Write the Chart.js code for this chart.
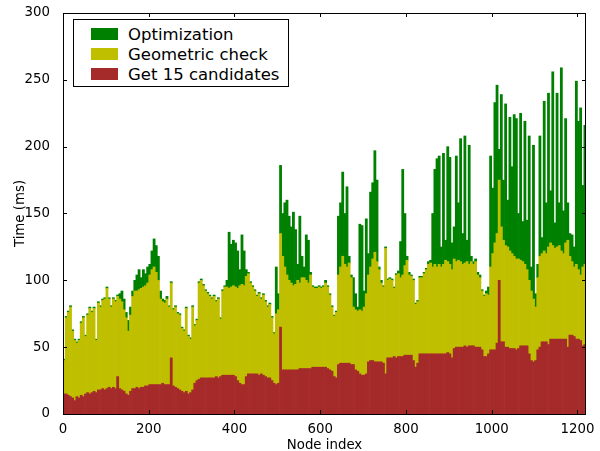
<!DOCTYPE html>
<html>
<head>
<meta charset="utf-8">
<script src="https://cdn.jsdelivr.net/npm/chart.js@4.4.1/dist/chart.umd.min.js"></script>
<style>
  body { margin: 0; background: #fff; }
  #wrap { position: relative; width: 600px; height: 451px; }
  #timing { position: absolute; left: 0; top: 0; }
  #legend {
    position: absolute; left: 73px; top: 19px; width: 214px; height: 66px;
    border: 1px solid #000; background: #fff;
    font-family: "DejaVu Sans", sans-serif; font-size: 16.5px; color: #000;
  }
  .item { position: absolute; left: 17px; height: 20px; display: flex; align-items: center; white-space: nowrap; }
  .swatch { width: 27px; height: 12px; margin-right: 10px; }
</style>
</head>
<body>
<div id="wrap">
  <canvas id="timing" width="600" height="451"></canvas>
  <div id="legend"></div>
</div>
<script>
// one bar per 5 nodes (node index of the bin start)
const binStart = Array.from({ length: 244 }, (_, i) => i * 5);

// Get 15 candidates (ms)
const candidatesMs = [
  15, 15, 14, 13, 12, 10, 13, 12, 14, 13,
  15, 16, 15, 16, 17, 16, 18, 18, 19, 18,
  19, 20, 19, 20, 19, 28, 19, 18, 17, 15,
  14, 17, 19, 19, 20, 19, 20, 20, 21, 21,
  22, 22, 22, 22, 22, 22, 23, 22, 22, 22,
  42, 21, 20, 19, 18, 17, 16, 17, 15, 16,
  18, 23, 25, 26, 27, 27, 27, 27, 27, 27,
  27, 28, 27, 28, 29, 29, 29, 29, 29, 29,
  28, 25, 23, 22, 22, 28, 30, 30, 30, 30,
  30, 29, 30, 29, 28, 27, 27, 25, 23, 22,
  23, 65, 33, 33, 33, 33, 33, 33, 33, 33,
  34, 34, 34, 34, 34, 34, 35, 35, 35, 35,
  35, 35, 35, 34, 33, 32, 28, 27, 37, 38,
  38, 38, 38, 38, 37, 37, 33, 32, 30, 29,
  29, 30, 39, 40, 40, 39, 39, 39, 39, 38,
  30, 42, 42, 42, 43, 42, 43, 43, 43, 44,
  44, 44, 44, 40, 35, 38, 45, 45, 45, 45,
  45, 45, 45, 45, 45, 45, 45, 45, 45, 46,
  45, 42, 49, 50, 50, 50, 50, 51, 50, 51,
  51, 51, 50, 50, 50, 48, 43, 43, 45, 48,
  48, 48, 53, 100, 54, 54, 50, 50, 49, 49,
  49, 48, 49, 51, 51, 51, 51, 45, 40, 39,
  40, 48, 50, 54, 54, 54, 52, 56, 56, 56,
  56, 56, 56, 56, 56, 50, 59, 59, 58, 56,
  56, 55, 51, 52
];

// Geometric check (ms)
const geometricMs = [
  25, 57, 62, 67, 50, 45, 40, 43, 54, 59,
  43, 58, 64, 60, 62, 39, 65, 62, 66, 68,
  75, 66, 61, 66, 65, 60, 67, 66, 61, 57,
  48, 57, 69, 73, 72, 74, 74, 75, 75, 77,
  82, 86, 88, 84, 78, 64, 61, 61, 64, 58,
  56, 57, 60, 56, 56, 47, 46, 62, 43, 40,
  62, 43, 45, 72, 73, 69, 65, 63, 61, 59,
  61, 56, 59, 43, 63, 66, 66, 65, 66, 67,
  67, 69, 73, 75, 74, 75, 75, 68, 65, 62,
  58, 61, 56, 60, 56, 53, 55, 47, 37, 53,
  55, 70, 85, 77, 71, 67, 65, 63, 64, 67,
  64, 68, 68, 66, 64, 70, 60, 59, 59, 60,
  59, 60, 63, 61, 56, 48, 45, 49, 67, 72,
  80, 74, 72, 75, 65, 43, 45, 45, 48, 48,
  51, 60, 65, 70, 76, 82, 75, 69, 59, 57,
  94, 58, 59, 58, 51, 62, 62, 59, 61, 67,
  71, 60, 59, 60, 47, 46, 57, 57, 60, 63,
  67, 68, 65, 67, 65, 67, 65, 67, 70, 68,
  67, 66, 67, 64, 65, 64, 62, 62, 64, 61,
  63, 61, 64, 54, 52, 44, 45, 47, 44, 62,
  72, 80, 82, 75, 86, 76, 76, 75, 73, 71,
  69, 68, 67, 64, 63, 61, 57, 55, 52, 47,
  40, 54, 68, 66, 68, 66, 73, 72, 70, 68,
  69, 70, 66, 64, 72, 80, 59, 55, 52, 56,
  52, 49, 59, 60
];

// Optimization (ms)
const optimizationMs = [
  1, 1, 1, 1, 1, 1, 1, 1, 1, 1,
  1, 1, 1, 1, 1, 1, 1, 1, 1, 1,
  1, 1, 1, 1, 1, 1, 4, 8, 8, 4,
  8, 6, 4, 8, 12, 15, 8, 13, 9, 12,
  8, 14, 21, 20, 18, 6, 2, 2, 2, 1,
  1, 1, 1, 1, 1, 1, 1, 1, 1, 1,
  1, 1, 1, 1, 1, 1, 1, 1, 1, 1,
  1, 1, 1, 1, 1, 1, 5, 42, 32, 34,
  33, 28, 12, 37, 26, 5, 1, 1, 1, 1,
  1, 1, 1, 1, 1, 1, 1, 1, 1, 35,
  12, 51, 32, 48, 56, 48, 42, 55, 41, 12,
  50, 16, 8, 34, 32, 2, 1, 1, 1, 1,
  1, 1, 2, 1, 1, 1, 1, 1, 44, 48,
  63, 38, 60, 5, 2, 22, 12, 3, 64, 64,
  12, 56, 16, 56, 57, 76, 61, 2, 2, 1,
  1, 1, 1, 1, 1, 1, 2, 27, 79, 39,
  3, 2, 1, 1, 1, 1, 1, 1, 1, 1,
  2, 2, 40, 71, 81, 81, 15, 83, 15, 86,
  80, 20, 24, 79, 43, 92, 23, 95, 16, 89,
  4, 2, 2, 2, 2, 1, 1, 2, 6, 83,
  49, 105, 111, 23, 99, 45, 106, 35, 100, 65,
  106, 105, 34, 110, 30, 107, 37, 108, 18, 115,
  10, 10, 90, 12, 112, 38, 115, 39, 130, 19,
  115, 32, 137, 32, 93, 28, 17, 20, 15, 137,
  111, 125, 61, 104
];

const xTicks = [0, 200, 400, 600, 800, 1000, 1200];
const yTicks = [0, 50, 100, 150, 200, 250, 300];

const series = [
  { label: "Get 15 candidates", values: candidatesMs, color: "#a52a2a" },
  { label: "Geometric check", values: geometricMs, color: "#bfbf00" },
  { label: "Optimization", values: optimizationMs, color: "#008000" }
];

const toPoints = (vals) => vals.map((v, i) => ({ x: binStart[i] + 2.5, y: v }));

// matplotlib-like frame with inward ticks on all four sides
const frameTicks = {
  id: "frameTicks",
  afterDatasetsDraw(chart) {
    const { ctx, chartArea: a, scales } = chart;
    ctx.save();
    ctx.strokeStyle = "#000";
    ctx.lineWidth = 1;
    ctx.beginPath();
    xTicks.forEach((v) => {
      const px = Math.round(scales.x.getPixelForValue(v)) + 0.5;
      ctx.moveTo(px, a.bottom); ctx.lineTo(px, a.bottom - 4);
      ctx.moveTo(px, a.top); ctx.lineTo(px, a.top + 4);
    });
    yTicks.forEach((v) => {
      const py = Math.round(scales.y.getPixelForValue(v)) + 0.5;
      ctx.moveTo(a.left, py); ctx.lineTo(a.left + 4, py);
      ctx.moveTo(a.right, py); ctx.lineTo(a.right - 4, py);
    });
    ctx.stroke();
    ctx.strokeRect(a.left + 0.5, a.top + 0.5, a.right - a.left - 1, a.bottom - a.top);
    ctx.restore();
  }
};

Chart.defaults.font.family = "'DejaVu Sans', sans-serif";
Chart.defaults.font.size = 13.33;
Chart.defaults.color = "#000";

new Chart(document.getElementById("timing"), {
  type: "bar",
  data: {
    datasets: series.map((s) => ({
      label: s.label,
      data: toPoints(s.values),
      backgroundColor: s.color,
      borderWidth: 0,
      categoryPercentage: 1,
      barPercentage: 1
    }))
  },
  options: {
    responsive: false,
    animation: false,
    devicePixelRatio: 1,
    layout: { padding: { top: 12, right: 14, left: 0, bottom: 0 } },
    plugins: { legend: { display: false }, tooltip: { enabled: false } },
    scales: {
      x: {
        type: "linear",
        stacked: true,
        offset: false,
        min: 0,
        max: 1220,
        grid: { display: false, offset: false },
        border: { display: false },
        ticks: { stepSize: 200, padding: 0, maxRotation: 0, callback: (v) => String(v) },
        afterBuildTicks: (s) => { s.ticks = xTicks.map((v) => ({ value: v })); },
        title: { display: true, text: "Node index", padding: { top: 0, bottom: 0 }, font: { size: 13.33, lineHeight: 0.75 } },
        afterFit: (s) => { s.height = 37; }
      },
      y: {
        stacked: true,
        min: 0,
        max: 300,
        grid: { display: false },
        border: { display: false },
        ticks: { stepSize: 50, padding: 5 },
        afterBuildTicks: (s) => { s.ticks = yTicks.map((v) => ({ value: v })); },
        title: { display: true, text: "Time (ms)", padding: { top: 14, bottom: 0 }, font: { size: 13.33, lineHeight: 1 } },
        afterFit: (s) => { s.width = 63; }
      }
    }
  },
  plugins: [frameTicks]
});

// legend inside the axes, top-left, top entry = top of stack
const legend = document.getElementById("legend");
series.slice().reverse().forEach((s, i) => {
  const item = document.createElement("div");
  item.className = "item";
  item.style.top = (4 + i * 20) + "px";
  item.innerHTML = `<span class="swatch" style="background:${s.color}"></span><span>${s.label}</span>`;
  legend.appendChild(item);
});
</script>
</body>
</html>
